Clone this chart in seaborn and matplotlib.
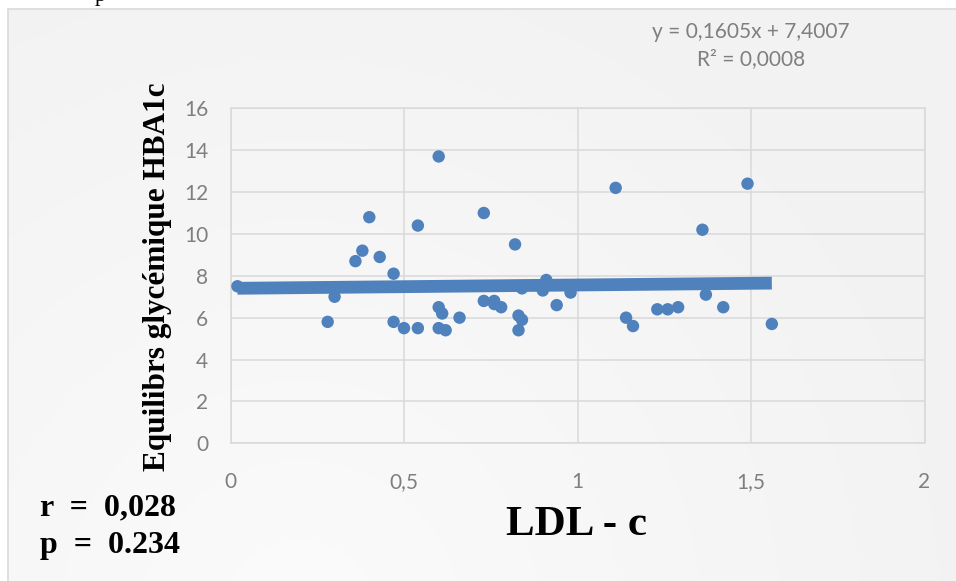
import numpy as np
import pandas as pd
import matplotlib
matplotlib.use("Agg")
import matplotlib.pyplot as plt
import seaborn as sns

# LDL-c (g/L) against HbA1c (%)
ldl = [0.02, 0.28, 0.30, 0.36, 0.38, 0.40, 0.43, 0.47, 0.47, 0.50,
       0.54, 0.54, 0.60, 0.60, 0.61, 0.60, 0.62, 0.66, 0.73, 0.73,
       0.76, 0.76, 0.78, 0.82, 0.83, 0.84, 0.83, 0.84, 0.91, 0.90,
       0.94, 0.98, 1.11, 1.14, 1.16, 1.23, 1.26, 1.29, 1.36, 1.37,
       1.42, 1.49, 1.56]
hba1c = [7.5, 5.8, 7.0, 8.7, 9.2, 10.8, 8.9, 8.1, 5.8, 5.5,
         5.5, 10.4, 13.7, 6.5, 6.2, 5.5, 5.4, 6.0, 11.0, 6.8,
         6.8, 6.65, 6.5, 9.5, 6.1, 5.9, 5.4, 7.4, 7.8, 7.3,
         6.6, 7.2, 12.2, 6.0, 5.6, 6.4, 6.4, 6.5, 10.2, 7.1,
         6.5, 12.4, 5.7]

# linear trend as reported on the chart
slope, intercept = 0.1605, 7.4007
r2_text = "0,0008"
x_ticks = [0, 0.5, 1, 1.5, 2]
x_tick_labels = ["0", "0,5", "1", "1,5", "2"]
y_ticks = [0, 2, 4, 6, 8, 10, 12, 14, 16]

df = pd.DataFrame({"LDL": ldl, "HBA1c": hba1c})
trend_x = np.array([min(ldl), max(ldl)])
trend = pd.DataFrame({"LDL": trend_x, "HBA1c": slope * trend_x + intercept})

sns.set_theme(style="white")
plt.rcParams["font.family"] = ["Lato", "DejaVu Sans"]

W, H = 956, 581
fig = plt.figure(figsize=(W / 100, H / 100), dpi=100)
fig.patch.set_facecolor("white")

# chart-area background: soft radial gradient from near white to light grey
bg = fig.add_axes([0, 0, 1, 1], zorder=-5)
yy, xx = np.mgrid[0:H, 0:W]
d = np.hypot(xx - 300, yy - 620) / 720.0
val = 251 - 9 * np.clip(d, 0, 1)
img = np.dstack([val, val, val]) / 255.0
img[:9, :, :] = 1.0
img[:, :8, :] = 1.0
bg.imshow(img, aspect="auto", extent=[0, W, H, 0], interpolation="bilinear")
bg.set_xlim(0, W)
bg.set_ylim(H, 0)
bg.axis("off")
bg.plot([8, W], [9, 9], color="#d9d9d9", lw=1.2)
bg.plot([8, 8], [9, H], color="#d9d9d9", lw=1.2)

ax = fig.add_axes([230.5 / W, 1 - 443.3 / H, (924.5 - 230.5) / W, (443.3 - 108.3) / H])
ax.set_facecolor("none")

grid_c = "#d9d9d9"
ax.set_xlim(0, 2)
ax.set_ylim(0, 16)
ax.set_xticks(x_ticks)
ax.set_xticklabels(x_tick_labels)
ax.set_yticks(y_ticks)
ax.grid(True, color=grid_c, lw=1.1)
ax.set_axisbelow(True)
for sp in ax.spines.values():
    sp.set_color(grid_c)
    sp.set_linewidth(1.1)
ax.tick_params(axis="both", length=0, labelsize=15, labelcolor="#7f7f7f")
ax.tick_params(axis="x", pad=21)
ax.tick_params(axis="y", pad=16)

sns.scatterplot(data=df, x="LDL", y="HBA1c", ax=ax, s=80, color="#4f81bd",
                edgecolor="none", linewidth=0, zorder=3, clip_on=False)
sns.lineplot(data=trend, x="LDL", y="HBA1c", ax=ax, color="#4f81bd", lw=9.2,
             zorder=4, solid_capstyle="butt")
ax.set_xlabel("")
ax.set_ylabel("")

serif = ["Liberation Serif", "DejaVu Serif"]
fig.text(158 / W, 1 - 277 / H, "Equilibrs glycémique HBA1c", rotation=90,
         ha="center", va="center", fontsize=22.5, fontweight="bold",
         family=serif, color="black")
fig.text(577 / W, 1 - 525 / H, "LDL - c", ha="center", va="center",
         fontsize=31, fontweight="bold", family=serif, color="black")
fig.text(40 / W, 1 - 508 / H, "r  =  0,028", ha="left", va="center",
         fontsize=23, fontweight="bold", family=serif, color="black")
fig.text(40 / W, 1 - 545 / H, "p  =  0.234", ha="left", va="center",
         fontsize=23, fontweight="bold", family=serif, color="black")

fig.text(751 / W, 1 - 32 / H, f"y = {str(slope).replace('.', ',')}x + {str(intercept).replace('.', ',')}",
         ha="center", va="center", fontsize=15, color="#7f7f7f")
fig.text(751 / W, 1 - 59 / H, f"R² = {r2_text}", ha="center", va="center",
         fontsize=15, color="#7f7f7f")

# tail of the preceding line of text
fig.text(100 / W, 1 - 0.5 / H, "p", ha="center", va="baseline", fontsize=16,
         family=serif, color="black")

fig.savefig("out.png", dpi=100)
